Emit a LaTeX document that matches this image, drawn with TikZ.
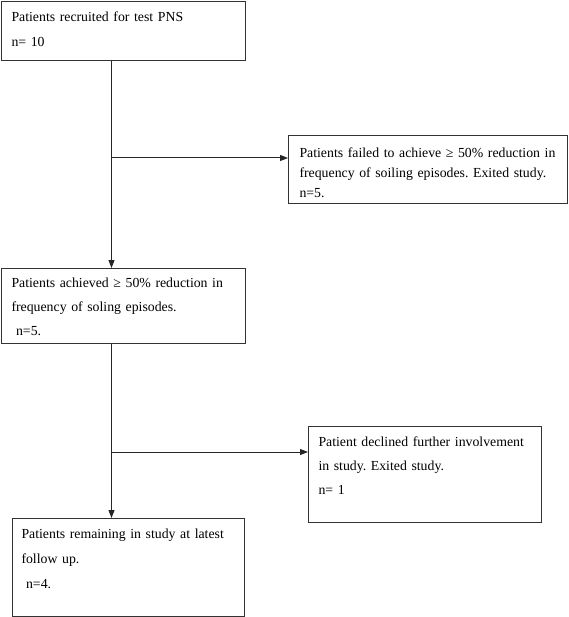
\documentclass[tikz,border=0pt]{standalone}
\usepackage{fontspec}
\setmainfont{Liberation Serif}
\frenchspacing
\usetikzlibrary{arrows.meta}
\tikzset{
    stage/.style = {draw = black!80, line width = 1pt, anchor = north west, inner ysep = 0pt, align = left},
    flow/.style = {draw = black!85, line width = 1pt, -{Triangle[length = 8pt, width = 6pt]}}
}
\begin{document}
\begin{tikzpicture}[x = 1pt, y = -1pt]
                \useasboundingbox (0, 0) rectangle (568, 617);
                \node [stage, font = \fontsize{13.8}{25.5}\selectfont, inner xsep = 10.4pt, text width = 223.6pt, text height = 20.4pt, text depth = 39pt]
                    (recruited) at (0.6, 0.6) {Patients recruited for test PNS\\n= 10};
                \node [stage, font = \fontsize{13.8}{20}\selectfont, inner xsep = 11pt, text width = 257pt, text height = 22pt, text depth = 46pt]
                    (failed) at (288, 135) {Patients failed to achieve ≥ 50\% reduction in\\frequency of soiling episodes. Exited study.\\n=5.};
                \node [stage, font = \fontsize{13.8}{24}\selectfont, inner xsep = 10.4pt, text width = 223.6pt, text height = 19pt, text depth = 56pt]
                    (achieved) at (0.6, 268) {Patients achieved ≥ 50\% reduction in\\frequency of soling episodes.\\\ n=5.};
                \node [stage, font = \fontsize{13.8}{24}\selectfont, inner xsep = 10pt, text width = 213pt, text height = 20pt, text depth = 76pt]
                    (declined) at (308, 426) {Patient declined further involvement\\in study. Exited study.\\n= 1};
                \node [stage, font = \fontsize{13.8}{25}\selectfont, inner xsep = 9pt, text width = 214pt, text height = 20pt, text depth = 78.4pt]
                    (remaining) at (12, 518) {Patients remaining in study at latest\\follow up.\\\ n=4.};
                \coordinate (split1) at (111.5, 158);
                \coordinate (split2) at (111.5, 452);
                \draw [flow] (recruited.south -| split1) -- (achieved.north -| split1);
                \draw [flow] (split1) -- (failed.west |- split1);
                \draw [flow] (achieved.south -| split2) -- (remaining.north -| split2);
                \draw [flow] (split2) -- (declined.west |- split2);
            \end{tikzpicture}
\end{document}
